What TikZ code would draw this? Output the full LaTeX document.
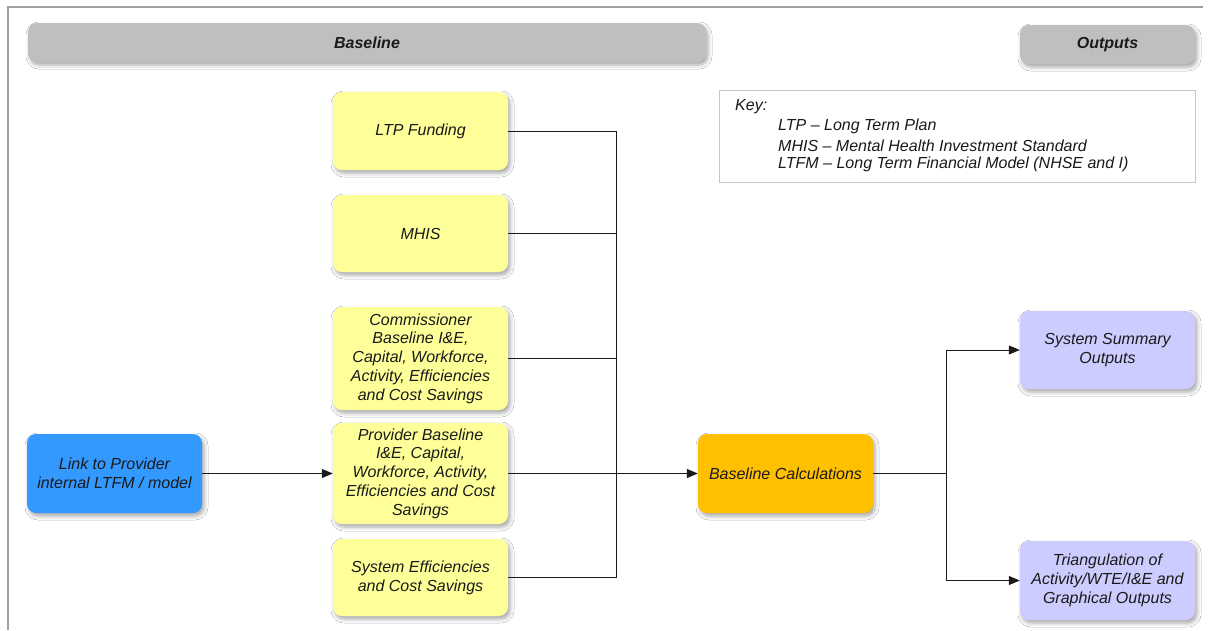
\documentclass[tikz,border=0pt]{standalone}
\usepackage{fontspec}
\setmainfont{Liberation Sans}
\usetikzlibrary{arrows.meta,shadows.blur}
\definecolor{bannergray}{HTML}{BFBFBF}
\definecolor{boxyellow}{HTML}{FFFF99}
\definecolor{boxblue}{HTML}{3399FF}
\definecolor{boxorange}{HTML}{FFC000}
\definecolor{boxlav}{HTML}{CCCCFF}
\definecolor{txt}{HTML}{1A1A1A}
\begin{document}
\begin{tikzpicture}[x=1pt,y=-1pt,
  basebox/.style={rounded corners=9pt, minimum width=175pt, inner sep=0pt, align=center,
    font=\itshape\fontsize{16}{18.8}\selectfont, text=txt,
    blur shadow={shadow xshift=2pt, shadow yshift=-3pt, shadow blur radius=4pt, shadow opacity=35}},
  ybox/.style={basebox, fill=boxyellow},
  bbox/.style={basebox, fill=boxblue},
  obox/.style={basebox, fill=boxorange},
  lbox/.style={basebox, fill=boxlav},
  banner/.style={basebox, fill=bannergray, font=\bfseries\itshape\fontsize{16}{18.8}\selectfont, minimum height=39pt},
  keytxt/.style={anchor=west, inner sep=0pt, font=\itshape\fontsize{16}{18.8}\selectfont, text=txt},
  conn/.style={draw=txt, line width=1pt},
  arr/.style={conn, -{Triangle[length=11pt,width=9pt]}}
]
\useasboundingbox (0,0) rectangle (1208,630);
\fill[white] (0,0) rectangle (1208,630);
\draw[gray!75, line width=1.6pt] (8,630) -- (8,7) -- (1203,7);

% banners
\node[banner, minimum width=678pt] (baseline) at (367,42.5) {Baseline};
\node[banner] (outputs) at (1107.5,44.5) {Outputs};

% key
\node[draw=gray!45, line width=0.8pt, minimum width=476pt, minimum height=92pt, anchor=north west, inner sep=0pt] (key) at (719,90) {};
\node[keytxt] (keyhead) at (735,106.5) {Key:};
\node[keytxt] (k1) at (778,126.5) {LTP – Long Term Plan};
\node[keytxt] (k2) at (778,145.5) {MHIS – Mental Health Investment Standard};
\node[keytxt] (k3) at (778,164.5) {LTFM – Long Term Financial Model (NHSE and I)};

% yellow inputs
\node[ybox, minimum height=78pt] (ltp) at (420.5,131) {LTP Funding};
\node[ybox, minimum height=77pt] (mhis) at (420.5,233.5) {MHIS};
\node[ybox, minimum height=103pt] (comm) at (420.5,358.5) {Commissioner\\Baseline I\&E,\\Capital, Workforce,\\Activity, Efficiencies\\and Cost Savings};
\node[ybox, minimum height=101pt] (prov) at (420.5,473.5) {Provider Baseline\\I\&E, Capital,\\Workforce, Activity,\\Efficiencies and Cost\\Savings};
\node[ybox, minimum height=77pt] (syseff) at (420.5,577.5) {System Efficiencies\\and Cost Savings};

% other boxes
\node[bbox, minimum height=79pt] (link) at (114.5,473.5) {Link to Provider\\internal LTFM / model};
\node[obox, minimum height=79pt] (calc) at (785.5,473.5) {Baseline Calculations};
\node[lbox, minimum height=78pt] (sso) at (1107.5,350) {System Summary\\Outputs};
\node[lbox, minimum height=79pt] (tri) at (1107.5,580.5) {Triangulation of\\Activity/WTE/I\&E and\\Graphical Outputs};

% connectors
\coordinate (busb) at (616,577.5);
\coordinate (fork) at (946,473.5);
\draw[conn] (ltp.east) -| (busb);
\draw[conn] (mhis.east) -- (mhis.east -| busb);
\draw[conn] (comm.east) -- (comm.east -| busb);
\draw[conn] (syseff.east) -- (syseff.east -| busb);
\draw[arr] (prov.east) -- (calc.west);
\draw[arr] (link.east) -- (prov.west);
\draw[conn] (calc.east) -- (fork);
\draw[arr] (fork) |- (sso.west);
\draw[arr] (fork) |- (tri.west);
\end{tikzpicture}
\end{document}
